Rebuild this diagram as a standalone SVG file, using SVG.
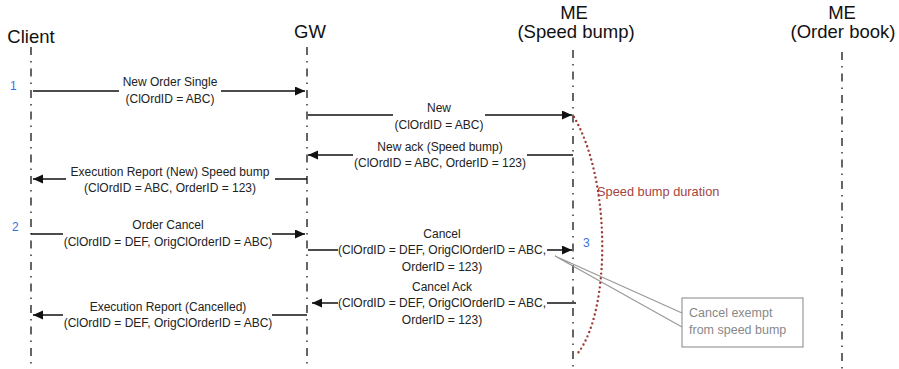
<svg xmlns="http://www.w3.org/2000/svg" width="899" height="369" viewBox="0 0 899 369">
<style>
.hdr{font-family:"Liberation Sans",Arial,sans-serif;font-size:18.5px;fill:#111;text-anchor:middle}
.lbl{font-family:"Liberation Sans",Arial,sans-serif;font-size:12px;fill:#222;text-anchor:middle}
.num{font-family:"Liberation Sans",Arial,sans-serif;font-size:12px;fill:#3b6fe0}
.life{stroke:#333;stroke-width:1.5;stroke-dasharray:8 6 1.5 6;fill:none}
.msg{stroke:#111;stroke-width:1.5;fill:none}
.arc{stroke:#9c3a34;stroke-width:2.4;stroke-linecap:round;stroke-dasharray:0 4.6;fill:none}
.note{font-family:"Liberation Sans",Arial,sans-serif;font-size:12.5px;fill:#888}
</style>
<defs>
<marker id="ah" markerUnits="userSpaceOnUse" markerWidth="11" markerHeight="10" refX="10" refY="4.5" orient="auto">
<path d="M0,0 L10,4.5 L0,9 z" fill="#111"/>
</marker>
</defs>
<rect width="899" height="369" fill="#fff"/>

<g id="client">
<text class="hdr" x="31" y="43">Client</text>
<line class="life" x1="31" y1="47" x2="31" y2="369"/>
</g>
<g id="gw">
<text class="hdr" x="310" y="38">GW</text>
<line class="life" x1="307" y1="47" x2="307" y2="369"/>
</g>
<g id="me-speed-bump">
<text class="hdr" x="574" y="19">ME</text>
<text class="hdr" x="576" y="38">(Speed bump)</text>
<line class="life" x1="573" y1="50" x2="573" y2="369"/>
</g>
<g id="me-order-book">
<text class="hdr" x="842" y="19">ME</text>
<text class="hdr" x="843" y="38">(Order book)</text>
<line class="life" x1="842" y1="52" x2="842" y2="369"/>
</g>

<g id="connectors">
<line class="msg" x1="33" y1="91" x2="119" y2="91"/>
<line class="msg" x1="221" y1="91" x2="305" y2="91" marker-end="url(#ah)"/>
<line class="msg" x1="308" y1="115" x2="393" y2="115"/>
<line class="msg" x1="485" y1="115" x2="572" y2="115" marker-end="url(#ah)"/>
<line class="msg" x1="573" y1="155" x2="527" y2="155"/>
<line class="msg" x1="353" y1="155" x2="308" y2="155" marker-end="url(#ah)"/>
<line class="msg" x1="307" y1="179" x2="275" y2="179"/>
<line class="msg" x1="66" y1="179" x2="33" y2="179" marker-end="url(#ah)"/>
<line class="msg" x1="31" y1="234" x2="63" y2="234"/>
<line class="msg" x1="272" y1="234" x2="305" y2="234" marker-end="url(#ah)"/>
<line class="msg" x1="308" y1="250" x2="338" y2="250"/>
<line class="msg" x1="547" y1="250" x2="572" y2="250" marker-end="url(#ah)"/>
<line class="msg" x1="576" y1="303" x2="547" y2="303"/>
<line class="msg" x1="338" y1="303" x2="312" y2="303" marker-end="url(#ah)"/>
<line class="msg" x1="307" y1="315" x2="272" y2="315"/>
<line class="msg" x1="63" y1="315" x2="33" y2="315" marker-end="url(#ah)"/>
<path class="arc" d="M574,117 C611,180 611,310 578,353"/>
<polyline points="682,313 555,256 682,327" fill="none" stroke="#999" stroke-width="1.2"/>
</g>

<g id="labels">
<text class="num" x="10" y="90">1</text>
<text class="lbl" x="170" y="86">New Order Single</text>
<text class="lbl" x="170" y="103">(ClOrdID = ABC)</text>

<text class="lbl" x="439" y="112">New</text>
<text class="lbl" x="439" y="129">(ClOrdID = ABC)</text>

<text class="lbl" x="440" y="151">New ack (Speed bump)</text>
<text class="lbl" x="440" y="167">(ClOrdID = ABC, OrderID = 123)</text>

<text class="lbl" x="170" y="176">Execution Report (New) Speed bump</text>
<text class="lbl" x="170" y="192">(ClOrdID = ABC, OrderID = 123)</text>

<text class="num" x="12" y="231">2</text>
<text class="lbl" x="168" y="229">Order Cancel</text>
<text class="lbl" x="168" y="246">(ClOrdID = DEF, OrigClOrderID = ABC)</text>

<text class="lbl" x="442" y="238">Cancel</text>
<text class="lbl" x="442" y="254">(ClOrdID = DEF, OrigClOrderID = ABC,</text>
<text class="lbl" x="442" y="271">OrderID = 123)</text>
<text class="num" x="583" y="247">3</text>

<text class="lbl" x="442" y="291">Cancel Ack</text>
<text class="lbl" x="442" y="307">(ClOrdID = DEF, OrigClOrderID = ABC,</text>
<text class="lbl" x="442" y="324">OrderID = 123)</text>

<text class="lbl" x="168" y="311">Execution Report (Cancelled)</text>
<text class="lbl" x="168" y="327">(ClOrdID = DEF, OrigClOrderID = ABC)</text>

<text x="597" y="196" font-family="'Liberation Sans',Arial,sans-serif" font-size="12.8" fill="#a5443f">Speed bump duration</text>
</g>

<g id="callout">
<rect x="682" y="298" width="121" height="49" fill="#fff" stroke="#999" stroke-width="1.2"/>
<text class="note" x="689" y="317">Cancel exempt</text>
<text class="note" x="689" y="334">from speed bump</text>
</g>
</svg>
